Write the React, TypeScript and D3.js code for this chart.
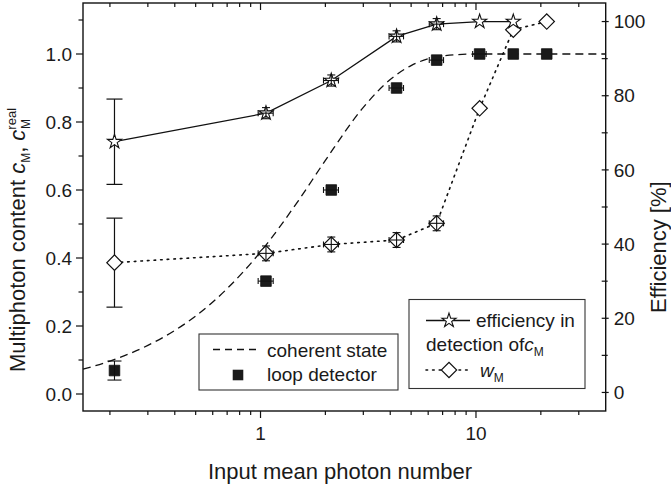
import React from 'react';
import * as d3 from 'd3';

// ---- data ----
const xVals = [0.21, 1.06, 2.13, 4.28, 6.57, 10.4, 14.9, 21.3];
const loopDetector = [0.069, 0.332, 0.6, 0.9, 0.982, 1.0, 1.0, 1.0];
const loopYErr = [0.028, 0, 0, 0, 0, 0, 0, 0];
const loopXErr = [0, 0.085, 0.17, 0.33, 0.5, 0.75, 0, 0];
const efficiency = [67.6, 75.3, 84.1, 96.0, 99.3, 100.0, 100.0];
const efficiencyErr = [11.5, 1.5, 1.5, 1.5, 1.5, 0, 0];
const efficiencyXErr = [0, 0.085, 0.17, 0.33, 0.5, 0, 0];
const wM = [35.0, 37.5, 39.9, 41.1, 45.6, 76.6, 97.8, 100.0];
const wMErr = [12, 2, 2, 2, 2, 0, 0, 0];
const wMXErr = [0, 0.085, 0.17, 0.33, 0.5, 0, 0, 0];
const coherentX = [0.15, 0.2, 0.3, 0.4, 0.5, 0.7, 1, 1.5, 2, 3, 4, 5, 7, 10, 20, 40];
const coherentY = [0.073, 0.097, 0.143, 0.187, 0.229, 0.31, 0.418, 0.569, 0.687, 0.843, 0.925, 0.966, 0.994, 1.0, 1.0, 1.0];

const leftMajor = [0, 0.2, 0.4, 0.6, 0.8, 1.0];
const leftMinor = [0.1, 0.3, 0.5, 0.7, 0.9, 1.1];
const rightMajor = [0, 20, 40, 60, 80, 100];
const rightMinor = [10, 30, 50, 70, 90];
const xMajor = [1, 10];
const xMinor = [0.2, 0.3, 0.4, 0.5, 0.6, 0.7, 0.8, 0.9, 2, 3, 4, 5, 6, 7, 8, 9, 20, 30];

const W = 671, H = 488;
const L = 83, R = 605.7, T = 3, B = 411;
const FONT = "'Liberation Sans', Arial, Helvetica, sans-serif";

export default function App() {
  const x = d3.scaleLog().domain([0.15, 40]).range([L, R]);
  const yL = d3.scaleLinear().domain([-0.05, 1.15]).range([B, T]);
  const yR = d3.scaleLinear().domain([-5, 105]).range([B, T]);

  const starPath = d3.symbol(d3.symbolStar, 62)()!;
  const sqPath = d3.symbol(d3.symbolSquare, 112)()!;
  const diaPath = d3.symbol(d3.symbolSquare, 118)()!;

  const coherentLine = d3
    .line<number>()
    .x((_, i) => x(coherentX[i]))
    .y((d) => yL(d))
    .curve(d3.curveMonotoneX)(coherentY)!;
  const effLine = d3
    .line<number>()
    .x((_, i) => x(xVals[i]))
    .y((d) => yR(d))(efficiency)!;
  const wLine = d3
    .line<number>()
    .x((_, i) => x(xVals[i]))
    .y((d) => yR(d))(wM)!;

  const errBars = (
    xs: number[], ys: number[], yErr: number[], xErr: number[], ys2: (v: number) => number,
    cap: number, key: string, filter: (i: number) => boolean
  ) =>
    ys.map((v, i) => {
      if (!filter(i)) return null;
      const cx = x(xs[i]);
      const cy = ys2(v);
      const parts: JSX.Element[] = [];
      if (yErr[i] > 0) {
        const y1 = ys2(v + yErr[i]);
        const y2 = ys2(v - yErr[i]);
        parts.push(<line key="v" x1={cx} x2={cx} y1={y1} y2={y2} />);
        parts.push(<line key="c1" x1={cx - cap} x2={cx + cap} y1={y1} y2={y1} />);
        parts.push(<line key="c2" x1={cx - cap} x2={cx + cap} y1={y2} y2={y2} />);
      }
      if (xErr[i] > 0) {
        const x1 = x(xs[i] - xErr[i]);
        const x2 = x(xs[i] + xErr[i]);
        const c = 3;
        parts.push(<line key="h" x1={x1} x2={x2} y1={cy} y2={cy} />);
        parts.push(<line key="h1" x1={x1} x2={x1} y1={cy - c} y2={cy + c} />);
        parts.push(<line key="h2" x1={x2} x2={x2} y1={cy - c} y2={cy + c} />);
      }
      return <g key={key + i}>{parts}</g>;
    });

  const tickFs = 19;

  return (
    <svg
      width={W}
      height={H}
      style={{ position: 'absolute', left: 0, top: 0, background: '#fff' }}
      fontFamily={FONT}
    >
      {/* coherent dashed curve */}
      <path d={coherentLine} fill="none" stroke="#111" strokeWidth={1.3} strokeDasharray="8,5" />
      {/* w_M dotted */}
      <path d={wLine} fill="none" stroke="#111" strokeWidth={1.6} strokeDasharray="1.6,5" strokeLinecap="round" />
      {/* efficiency solid */}
      <path d={effLine} fill="none" stroke="#111" strokeWidth={1.3} />

      {/* big error bars (behind markers) */}
      <g stroke="#111" strokeWidth={1.2}>
        {errBars(xVals, efficiency, efficiencyErr, efficiencyXErr, yR, 8, 'eb', (i) => i === 0)}
        {errBars(xVals, wM, wMErr, wMXErr, yR, 8, 'wb', (i) => i === 0)}
      </g>

      {/* markers */}
      {loopDetector.map((v, i) => (
        <path key={'sq' + i} d={sqPath} transform={`translate(${x(xVals[i])},${yL(v)})`} fill="#1a1a1a" stroke="#111" strokeWidth={0.8} />
      ))}
      {wM.map((v, i) => (
        <path key={'di' + i} d={diaPath} transform={`translate(${x(xVals[i])},${yR(v)}) rotate(45)`} fill="#fff" stroke="#111" strokeWidth={1.2} />
      ))}
      {efficiency.map((v, i) => (
        <path key={'st' + i} d={starPath} transform={`translate(${x(xVals[i])},${yR(v)})`} fill="#fff" stroke="#111" strokeWidth={1.1} />
      ))}

      {/* small error bars (on top) */}
      <g stroke="#111" strokeWidth={1.1}>
        {errBars(xVals, loopDetector, loopYErr, loopXErr, yL, 7, 'lb', () => true)}
        {errBars(xVals, efficiency, efficiencyErr, efficiencyXErr, yR, 4, 'eb2', (i) => i > 0)}
        {errBars(xVals, wM, wMErr, wMXErr, yR, 4, 'wb2', (i) => i > 0)}
      </g>

      {/* frame */}
      <rect x={L} y={T} width={R - L} height={B - T} fill="none" stroke="#111" strokeWidth={1.4} />

      {/* left axis ticks */}
      <g stroke="#111" strokeWidth={1.2}>
        {leftMajor.map((v) => <line key={'lm' + v} x1={L - 7} x2={L} y1={yL(v)} y2={yL(v)} />)}
        {leftMinor.map((v) => <line key={'ln' + v} x1={L - 4.5} x2={L} y1={yL(v)} y2={yL(v)} />)}
        {rightMajor.map((v) => <line key={'rm' + v} x1={R - 4} x2={R + 3} y1={yR(v)} y2={yR(v)} />)}
        {rightMinor.map((v) => <line key={'rn' + v} x1={R - 4} x2={R + 2} y1={yR(v)} y2={yR(v)} />)}
        {xMajor.map((v) => <line key={'bm' + v} x1={x(v)} x2={x(v)} y1={B} y2={B + 7} />)}
        {xMinor.map((v) => <line key={'bn' + v} x1={x(v)} x2={x(v)} y1={B} y2={B + 4} />)}
        {xMajor.map((v) => <line key={'tm' + v} x1={x(v)} x2={x(v)} y1={T} y2={T + 7} />)}
        {xMinor.map((v) => <line key={'tn' + v} x1={x(v)} x2={x(v)} y1={T} y2={T + 4} />)}
      </g>

      {/* tick labels */}
      <g fontSize={tickFs} fill="#1a1a1a">
        {leftMajor.map((v) => (
          <text key={'ll' + v} x={L - 11} y={yL(v)} dy="0.35em" textAnchor="end">{d3.format('.1f')(v)}</text>
        ))}
        {rightMajor.map((v) => (
          <text key={'rl' + v} x={R + 8} y={yR(v)} dy="0.35em" textAnchor="start">{v}</text>
        ))}
        {xMajor.map((v) => (
          <text key={'xl' + v} x={x(v)} y={440} textAnchor="middle">{v}</text>
        ))}
      </g>

      {/* axis titles */}
      <text x={340} y={479} textAnchor="middle" fontSize={22} fill="#1a1a1a">Input mean photon number</text>
      <text transform="translate(666,313) rotate(-90)" fontSize={22} fill="#1a1a1a">Efficiency [%]</text>
      <text transform="translate(25,372) rotate(-90)" fontSize={22} fill="#1a1a1a">
        <tspan>Multiphoton content </tspan>
        <tspan fontStyle="italic">c</tspan>
        <tspan fontSize={12} dy={5}>M</tspan>
        <tspan dy={-5}>, </tspan>
        <tspan fontStyle="italic">c</tspan>
        <tspan fontSize={13} dy={-9}>real</tspan>
        <tspan fontSize={12} dx={-21} dy={14}>M</tspan>
      </text>

      {/* left legend */}
      <rect x={199} y={334} width={199} height={56} fill="#fff" stroke="#333" strokeWidth={1.1} />
      <line x1={213} x2={256} y1={349.5} y2={349.5} stroke="#111" strokeWidth={1.3} strokeDasharray="7,5" />
      <path d={sqPath} transform="translate(238,375)" fill="#1a1a1a" />
      <text x={267} y={357} fontSize={19} fill="#1a1a1a">coherent state</text>
      <text x={267} y={381} fontSize={19} fill="#1a1a1a">loop detector</text>

      {/* right legend */}
      <rect x={409} y={299.5} width={176} height={89} fill="#fff" stroke="#333" strokeWidth={1.1} />
      <line x1={426} x2={470} y1={320.5} y2={320.5} stroke="#111" strokeWidth={1.3} />
      <path d={starPath} transform="translate(449,320.5)" fill="#fff" stroke="#111" strokeWidth={1.1} />
      <text x={476} y={327} fontSize={19} fill="#1a1a1a">efficiency in</text>
      <text x={426} y={351} fontSize={19} fill="#1a1a1a">
        <tspan>detection of</tspan>
        <tspan fontStyle="italic">c</tspan>
        <tspan fontSize={12} dy={5}>M</tspan>
      </text>
      <line x1={426} x2={470} y1={370} y2={370} stroke="#111" strokeWidth={1.6} strokeDasharray="1.6,5" strokeLinecap="round" />
      <path d={diaPath} transform="translate(449,370) rotate(45)" fill="#fff" stroke="#111" strokeWidth={1.2} />
      <text x={480} y={377} fontSize={19} fill="#1a1a1a">
        <tspan fontStyle="italic">w</tspan>
        <tspan fontSize={12} dy={5}>M</tspan>
      </text>
    </svg>
  );
}
